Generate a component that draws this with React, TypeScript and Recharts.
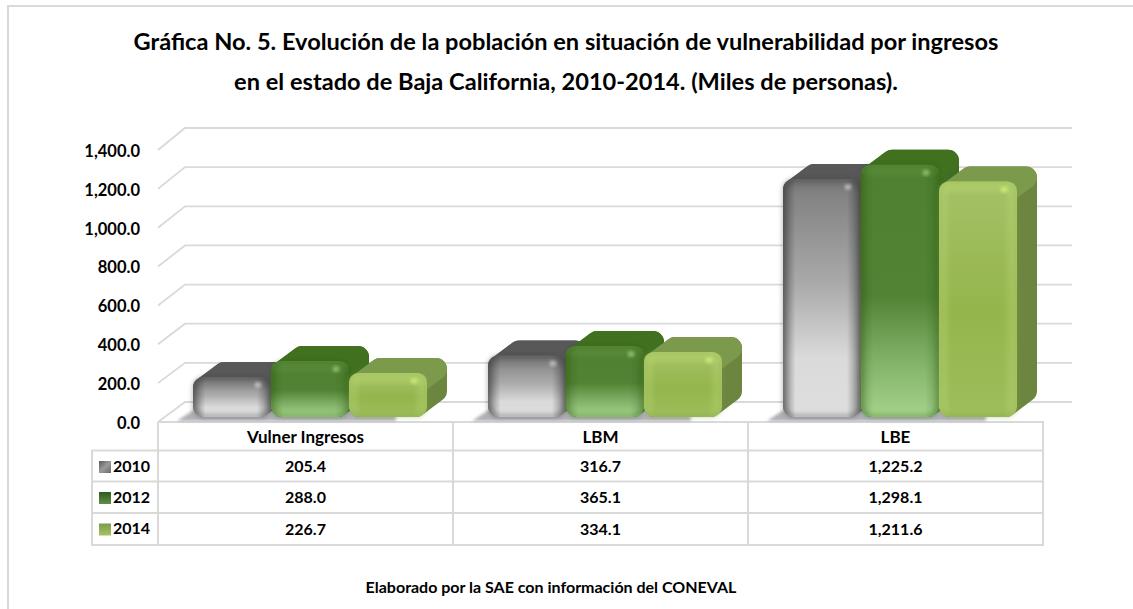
import React from "react";
import { BarChart, Bar, XAxis, YAxis, CartesianGrid, Customized } from "recharts";

const categories = ["Vulner Ingresos", "LBM", "LBE"];
const series2010 = [205.4, 316.7, 1225.2];
const series2012 = [288.0, 365.1, 1298.1];
const series2014 = [226.7, 334.1, 1211.6];
const yTicks = [0, 200, 400, 600, 800, 1000, 1200, 1400];
const years = ["2010", "2012", "2014"];
const titleLines = [
  "Gráfica No. 5. Evolución de la población en situación de vulnerabilidad por ingresos",
  "en el estado de Baja California, 2010-2014. (Miles de personas).",
];
const footer = "Elaborado por la SAE con información del CONEVAL";

const data = categories.map((c, i) => ({
  name: c,
  y2010: series2010[i],
  y2012: series2012[i],
  y2014: series2014[i],
}));

const FONT = "Lato, 'Open Sans', sans-serif";
const BORDER = "#d9d9d9";
const fmt = (v: number) =>
  v.toLocaleString("en-US", { minimumFractionDigits: 1, maximumFractionDigits: 1 });

const DX = 20;
const DY = 15;
const R = 11;

type Pal = { id: string; top: string; side: string; edge: string; edgeOpacity: number; spot: string; spotOpacity: number };
const palGray: Pal = { id: "g", top: "#585858", side: "#6a6a6a", edge: "#3a3a3a", edgeOpacity: 0.42, spot: "#d8d8d8", spotOpacity: 0.6 };
const palDark: Pal = { id: "d", top: "#41701f", side: "#3f6d22", edge: "#2a5a18", edgeOpacity: 0.4, spot: "#8fc56c", spotOpacity: 0.8 };
const palLight: Pal = { id: "l", top: "#7b9a4c", side: "#6c8640", edge: "#7d9a40", edgeOpacity: 0.4, spot: "#c6ea78", spotOpacity: 0.9 };

function makeBar(p: Pal, withShadow: boolean) {
  return function BarShape(props: any) {
    const X = props.x + 5;
    const Y = props.y - 5;
    const w = props.width;
    const h = props.height;
    const b = Y + h;
    const i = R;
    const hull = `M${X + i} ${Y + i} L${X + i + DX} ${Y + i - DY} L${X + w - i + DX} ${Y + i - DY} L${X + w - i + DX} ${b - i - DY} L${X + w - i} ${b - i} L${X + i} ${b - i} Z`;
    const topFace = `M${X + i} ${Y + i} L${X + i + DX} ${Y + i - DY} L${X + w - i + DX} ${Y + i - DY} L${X + w - i} ${Y + i} Z`;
    return (
      <g>
        {withShadow && (
          <path
            d={`M${X - 16} ${b + 4} L${X + 8} ${b - 12} L${X + 2.6 * w} ${b - 12} L${X + 2.6 * w} ${b + 4} Z`}
            fill="#b0b0b6"
            filter="url(#soft1)"
          />
        )}
        <path d={hull} fill={p.side} stroke={p.side} strokeWidth={2 * i} strokeLinejoin="round" />
        <path d={topFace} fill={p.top} stroke={p.top} strokeWidth={2 * i} strokeLinejoin="round" />
        <rect x={X} y={Y} width={w} height={h} rx={R} ry={R} fill={`url(#front-${p.id})`} />
        <rect x={X} y={Y} width={w} height={h} rx={R} ry={R} fill={`url(#edge-${p.id})`} />
        <rect x={X} y={Y} width={w} height={Math.min(14, h)} rx={R} ry={R} fill={`url(#cap-${p.id})`} />
        <rect
          x={X + 1}
          y={Y + 1}
          width={w - 2}
          height={h - 2}
          rx={R - 1}
          ry={R - 1}
          fill="none"
          stroke={p.edge}
          strokeOpacity={p.edgeOpacity}
          strokeWidth={3}
          filter="url(#soft2)"
        />
        <ellipse
          cx={X + w - 13}
          cy={Y + 8}
          rx={3.5}
          ry={3}
          fill={p.spot}
          fillOpacity={p.spotOpacity}
          filter="url(#soft1)"
        />
      </g>
    );
  };
}

const Gridline = (props: any) => {
  const { x1, x2, y1 } = props;
  const lift = 20 + ((422 - y1) * 2) / 272;
  return (
    <g key={props.key}>
      <path
        d={`M${x1} ${y1} L${x1 + 27} ${y1 - lift} L${x2 + 29} ${y1 - lift}`}
        fill="none"
        stroke={BORDER}
        strokeWidth={1.8}
      />
    </g>
  );
};

const rowsY = [450.5, 481.5, 513, 545];
const colsX = [158, 453, 748, 1043];
const tableRows = [series2010, series2012, series2014];
const swatch = ["sw-g", "sw-d", "sw-l"];

const TableLayer = () => (
  <g fontFamily={FONT} fontWeight={700} fill="#000">
    <g stroke={BORDER} strokeWidth={2} fill="none">
      <path d={`M158 422 H1043 V545 H92 V450.5 H1043`} />
      <path d={`M92 481.5 H1043 M92 513 H1043`} />
      {colsX.slice(0, 3).map((x, i) => (
        <path key={i} d={`M${x} 422 V545`} />
      ))}
    </g>
    {years.map((yr, r) => (
      <g key={yr}>
        <rect x={99} y={rowsY[r] + 10.5} width={12} height={12} fill={`url(#${swatch[r]})`} />
        <text x={113} y={rowsY[r] + 21} fontSize={16} fill="#000">
          {yr}
        </text>
        {tableRows[r].map((v, c) => (
          <text
            key={c}
            x={(colsX[c] + colsX[c + 1]) / 2}
            y={rowsY[r] + 21.5}
            fontSize={16}
            textAnchor="middle"
            fill="#000"
          >
            {fmt(v)}
          </text>
        ))}
      </g>
    ))}
  </g>
);

const TextLayer = () => (
  <g fontFamily={FONT} fontWeight={700} fill="#000">
    <path d="M1133 6 H8 V609" fill="none" stroke={BORDER} strokeWidth={2} />
    <text x={566} y={49.5} fontSize={23.6} textAnchor="middle">
      {titleLines[0]}
    </text>
    <text x={566} y={90} fontSize={23.6} textAnchor="middle">
      {titleLines[1]}
    </text>
    <text x={551} y={593} fontSize={16} textAnchor="middle">
      {footer}
    </text>
  </g>
);

const stops = (arr: [string, string][]) =>
  arr.map(([o, c]) => <stop key={o} offset={o} stopColor={c} />);

const edgeGrad = (id: string, color: string, op: number) => (
  <linearGradient id={id} x1="0" y1="0" x2="1" y2="0">
    <stop offset="0" stopColor={color} stopOpacity={op} />
    <stop offset="0.16" stopColor={color} stopOpacity={0} />
    <stop offset="0.82" stopColor={color} stopOpacity={0} />
    <stop offset="1" stopColor={color} stopOpacity={op} />
  </linearGradient>
);

const capGrad = (id: string, color: string, op: number) => (
  <linearGradient id={id} x1="0" y1="0" x2="0" y2="1">
    <stop offset="0" stopColor={color} stopOpacity={op} />
    <stop offset="1" stopColor={color} stopOpacity={0} />
  </linearGradient>
);

export default function App() {
  return (
    <div style={{ position: "absolute", left: 0, top: 0, width: 1133, height: 609, background: "#fff" }}>
      <BarChart
        width={1133}
        height={609}
        data={data}
        margin={{ top: 150, right: 90, bottom: 159, left: 98 }}
        barCategoryGap={30}
        barGap={0}
      >
        <defs>
          <filter id="soft1" x="-20%" y="-20%" width="140%" height="140%">
            <feGaussianBlur stdDeviation="1.5" />
          </filter>
          <filter id="soft2" x="-20%" y="-20%" width="140%" height="140%">
            <feGaussianBlur stdDeviation="2" />
          </filter>
          <linearGradient id="front-g" x1="0" y1="0" x2="0" y2="1">
            {stops([["0", "#7c7c7c"], ["0.45", "#ababab"], ["0.75", "#dadada"], ["1", "#dedede"]])}
          </linearGradient>
          <linearGradient id="front-d" x1="0" y1="0" x2="0" y2="1">
            {stops([["0", "#4f8030"], ["0.52", "#528233"], ["0.75", "#7dad63"], ["1", "#a6d38c"]])}
          </linearGradient>
          <linearGradient id="front-l" x1="0" y1="0" x2="0" y2="1">
            {stops([["0", "#a5c167"], ["0.55", "#94b54c"], ["1", "#9ebd5c"]])}
          </linearGradient>
          {edgeGrad("edge-g", "#303030", 0.55)}
          {edgeGrad("edge-d", "#2c5a18", 0.3)}
          {edgeGrad("edge-l", "#c5e27f", 0.45)}
          {capGrad("cap-g", "#4a4a4a", 0.3)}
          {capGrad("cap-d", "#6fa050", 0.45)}
          {capGrad("cap-l", "#bcdc70", 0.7)}
          <linearGradient id="sw-g" x1="0" y1="0" x2="1" y2="1">
            {stops([["0", "#5a5a5a"], ["0.5", "#9a9a9a"], ["1", "#6a6a6a"]])}
          </linearGradient>
          <linearGradient id="sw-d" x1="0" y1="0" x2="0" y2="1">
            {stops([["0", "#2f5a1e"], ["1", "#5f9148"]])}
          </linearGradient>
          <linearGradient id="sw-l" x1="0" y1="0" x2="0" y2="1">
            {stops([["0", "#7b9a4c"], ["1", "#a6c464"]])}
          </linearGradient>
        </defs>
        <CartesianGrid vertical={false} horizontal={(p: any) => <Gridline {...p} />} />
        <XAxis
          dataKey="name"
          axisLine={false}
          tickLine={false}
          height={28}
          interval={0}
          tickMargin={3}
          tick={{ fontFamily: FONT, fontWeight: 700, fontSize: 17, fill: "#000" }}
        />
        <YAxis
          width={60}
          domain={[0, 1400]}
          ticks={yTicks}
          axisLine={false}
          tickLine={false}
          tickSize={0}
          tickMargin={18}
          tickFormatter={fmt}
          tick={{ fontFamily: FONT, fontWeight: 700, fontSize: 16.5, fill: "#000", dy: 1 }}
        />
        <Customized component={TableLayer} />
        <Bar dataKey="y2010" isAnimationActive={false} shape={makeBar(palGray, true)} />
        <Bar dataKey="y2012" isAnimationActive={false} shape={makeBar(palDark, false)} />
        <Bar dataKey="y2014" isAnimationActive={false} shape={makeBar(palLight, false)} />
        <Customized component={TextLayer} />
      </BarChart>
    </div>
  );
}
